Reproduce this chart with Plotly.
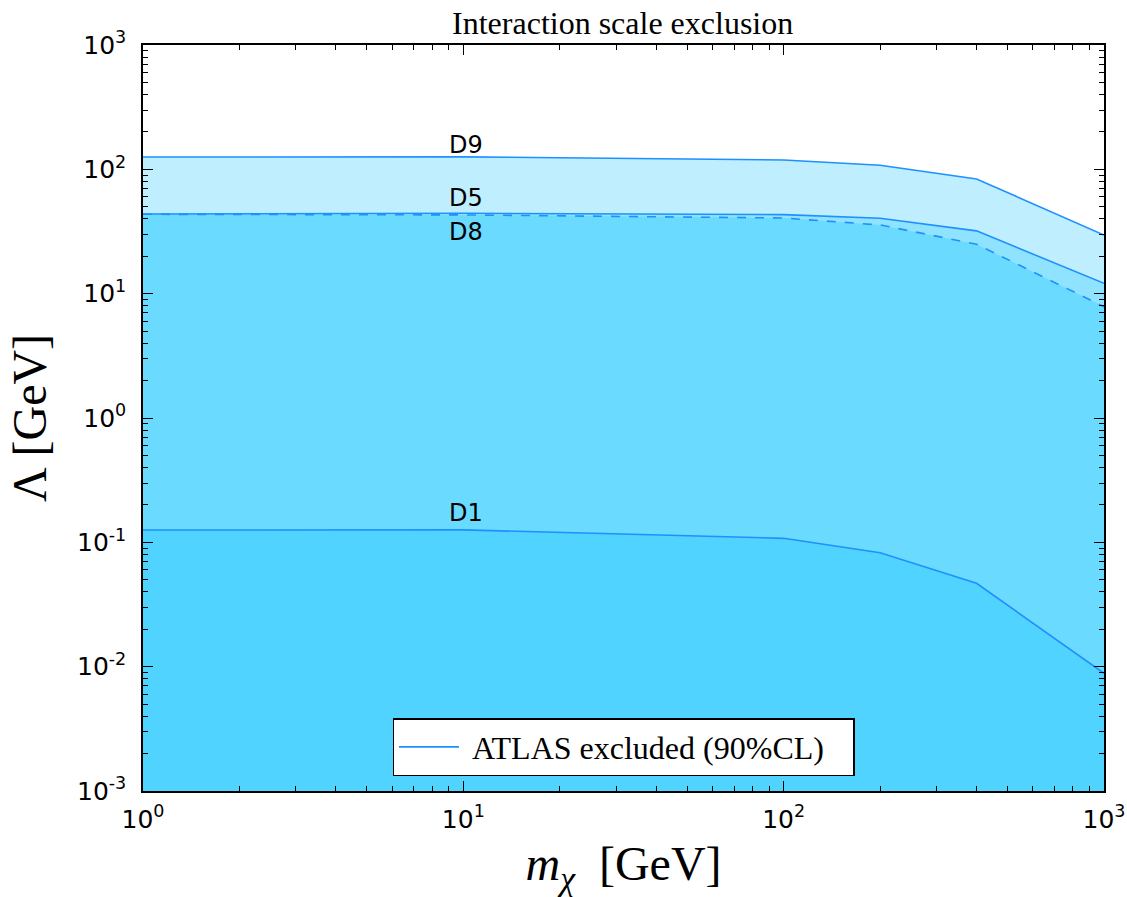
import math
import plotly.graph_objects as go

# ---- data ----
mass = [1, 10, 100, 200, 400, 1000]                       # m_chi [GeV]
lam_D9 = [125.6, 126.0, 119.0, 108.0, 83.6, 29.6]          # Lambda [GeV]
lam_D5 = [43.7, 44.3, 43.2, 40.4, 32.0, 12.1]
lam_D8 = [43.5, 43.0, 40.6, 35.7, 25.0, 7.85]
lam_D1 = [0.1256, 0.126, 0.1077, 0.0826, 0.0468, 0.00885]
operators = ["D9", "D5", "D8", "D1"]
curves = [lam_D9, lam_D5, lam_D8, lam_D1]
dashes = ["solid", "solid", "dash", "solid"]
label_x = 8.9
label_y = [158.4, 58.8, 31.3, 0.171]
y_floor = 1e-3

x_tickvals = [1, 10, 100, 1000]
x_ticktext = ["10<sup>0</sup>", "10<sup>1</sup>", "10<sup>2</sup>", "10<sup>3</sup>"]
y_tickvals = [1e-3, 1e-2, 1e-1, 1, 10, 100, 1000]
y_ticktext = ["10<sup>-3</sup>", "10<sup>-2</sup>", "10<sup>-1</sup>", "10<sup>0</sup>",
              "10<sup>1</sup>", "10<sup>2</sup>", "10<sup>3</sup>"]

FILL = "rgba(0,191,255,0.25)"
LINE = "rgb(30,144,255)"
SERIF = "Liberation Serif"
SANS = "DejaVu Sans"

fig = go.Figure()

# layered translucent fills from the floor up to each curve
for name, c in zip(operators, curves):
    fig.add_trace(go.Scatter(
        x=mass + mass[::-1], y=c + [y_floor] * len(c),
        fill="toself", fillcolor=FILL, mode="none",
        hoverinfo="skip", showlegend=False))

# boundary lines
for i, (name, c, d) in enumerate(zip(operators, curves, dashes)):
    fig.add_trace(go.Scatter(
        x=mass, y=c, mode="lines",
        line=dict(color=LINE, width=1.6, dash=d),
        name="&nbsp;ATLAS excluded (90%CL)&nbsp;&nbsp;&nbsp;" if i == 0 else name,
        showlegend=(i == 0)))

# operator labels (annotations on log axes take log10 coordinates)
for name, ly in zip(operators, label_y):
    fig.add_annotation(x=math.log10(label_x), y=math.log10(ly), xref="x", yref="y",
                       text=name, showarrow=False, xanchor="left", yanchor="middle",
                       font=dict(family=SANS, size=24, color="black"))

axis_common = dict(
    type="log", showgrid=False, zeroline=False, automargin=False,
    showline=True, linecolor="black", linewidth=1.5, mirror="allticks",
    ticks="inside", ticklen=10, tickwidth=1, tickcolor="black",
    tickfont=dict(family=SANS, size=25, color="black"),
    minor=dict(ticks="inside", ticklen=5, tickwidth=1, tickcolor="black",
               dtick="D1", showgrid=False),
)

fig.update_layout(
    width=1127, height=897,
    margin=dict(l=143, r=23, t=45, b=106),
    paper_bgcolor="white", plot_bgcolor="white",
    title=dict(text="Interaction scale exclusion", x=0.5525, xanchor="center",
               y=0.975, yanchor="middle",
               font=dict(family=SERIF, size=32, color="black")),
    xaxis=dict(range=[0, 3], tickvals=x_tickvals, ticktext=x_ticktext,
               ticklabelstandoff=5,
               title=dict(text="<i>m</i><sub><i>χ</i></sub>  [GeV]",
                          font=dict(family=SERIF, size=48, color="black")),
               **axis_common),
    yaxis=dict(range=[-3, 3], tickvals=y_tickvals, ticktext=y_ticktext,
               ticklabelstandoff=10,
               title=dict(text="Λ [GeV]",
                          font=dict(family=SERIF, size=48, color="black")),
               **axis_common),
    legend=dict(x=0.5, xanchor="center", y=0.02, yanchor="bottom",
                bgcolor="white", bordercolor="black", borderwidth=1.5,
                itemwidth=60,
                font=dict(family=SERIF, size=32, color="black")),
    showlegend=True,
)

fig.write_html("out.html")
